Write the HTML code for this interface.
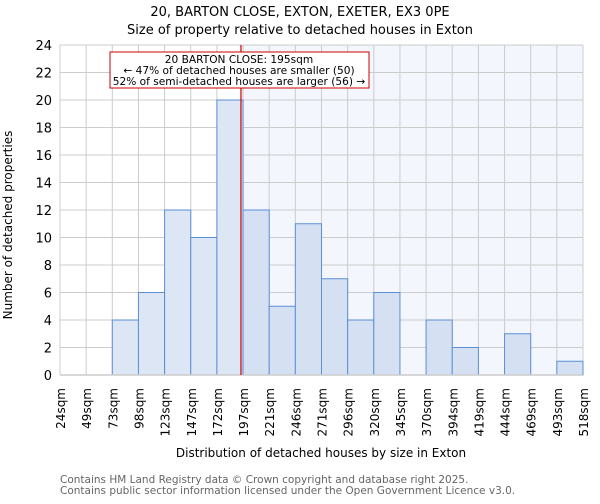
<!DOCTYPE html>
<html><head><meta charset="utf-8"><style>
body{margin:0;background:#fff;font-family:"DejaVu Sans","Liberation Sans",sans-serif}
svg text{font-family:"DejaVu Sans","Liberation Sans",sans-serif}
</style></head><body>
<svg id="chart" width="600" height="500" xmlns="http://www.w3.org/2000/svg">
<text x="300" y="16" text-anchor="middle" font-size="13">20, BARTON CLOSE, EXTON, EXETER, EX3 0PE</text>
<text x="300" y="34" text-anchor="middle" font-size="13">Size of property relative to detached houses in Exton</text>
<g id="plot"></g>
<text x="321" y="457" text-anchor="middle" font-size="12">Distribution of detached houses by size in Exton</text>
<text transform="translate(12,225) rotate(-90)" text-anchor="middle" font-size="12">Number of detached properties</text>
<text x="60" y="483" font-size="10.5" fill="#666">Contains HM Land Registry data © Crown copyright and database right 2025.</text>
<text x="60" y="494" font-size="10.5" fill="#666">Contains public sector information licensed under the Open Government Licence v3.0.</text>
</svg>
<script>
const categories=["24sqm","49sqm","73sqm","98sqm","123sqm","147sqm","172sqm","197sqm","221sqm","246sqm","271sqm","296sqm","320sqm","345sqm","370sqm","394sqm","419sqm","444sqm","469sqm","493sqm","518sqm"];
const counts=[0,0,4,6,12,10,20,12,5,11,7,4,6,0,4,2,0,3,0,1];
const yTicks=[0,2,4,6,8,10,12,14,16,18,20,22,24];
const markerBin=6.92;
const annotationLines=["20 BARTON CLOSE: 195sqm","← 47% of detached houses are smaller (50)","52% of semi-detached houses are larger (56) →"];
const NS="http://www.w3.org/2000/svg";
const X0=60,X1=583,Y0=375,Y1=45,YMAX=24;
const nb=counts.length;
const xs=i=>X0+(X1-X0)*i/nb;
const ys=v=>Y0-(Y0-Y1)*v/YMAX;
const g=document.getElementById('plot');
function mk(t,a){const e=document.createElementNS(NS,t);for(const k in a)e.setAttribute(k,a[k]);g.appendChild(e);return e;}
let e;
e=mk('rect',{x:xs(markerBin),y:Y1,width:X1-xs(markerBin),height:Y0-Y1,fill:'#f3f6fd'});


yTicks.forEach(t=>{
 e=mk('line',{x1:X0,x2:X1,y1:ys(t),y2:ys(t),stroke:'#ccc','stroke-width':1});
 
 
 e=mk('text',{x:X0-8,y:ys(t)+5,'text-anchor':'end','font-size':13});
 e.textContent=t;
 
 
});
categories.forEach((c,i)=>{
 e=mk('line',{x1:xs(i),x2:xs(i),y1:Y1,y2:Y0,stroke:'#ccc','stroke-width':1});
 
 
 e=mk('text',{transform:`translate(${xs(i)+5},388) rotate(-90)`,'text-anchor':'end','font-size':12});
 e.textContent=c;
 
 
});
counts.forEach((v,i)=>{
 if(v<=0)return;
 e=mk('rect',{x:xs(i),y:ys(v),width:xs(i+1)-xs(i),height:Y0-ys(v),fill:i>=7?'#d5e1f2':'#dce6f4',stroke:'#5b8fd6','stroke-width':1});
 
 
});
e=mk('line',{x1:X0,x2:X1,y1:Y0,y2:Y0,stroke:'#ccc','stroke-width':1.5});


e=mk('line',{x1:xs(markerBin),x2:xs(markerBin),y1:Y1,y2:Y0,stroke:'#cc0000','stroke-width':1.2});


e=mk('rect',{x:110,y:52,width:259,height:36,fill:'#fff',stroke:'#cc0000','stroke-width':1});


annotationLines.forEach((l,i)=>{
 e=mk('text',{x:239,y:63+i*11,'text-anchor':'middle','font-size':10.6});
 e.textContent=l;
 
 
});
</script>
</body></html>
